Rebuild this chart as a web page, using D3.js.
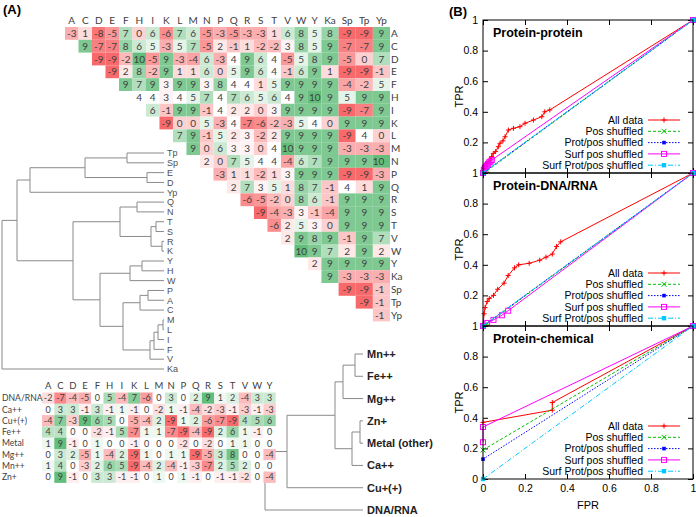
<!DOCTYPE html>
<html><head><meta charset="utf-8">
<script src="https://cdnjs.cloudflare.com/ajax/libs/d3/7.8.5/d3.min.js"></script>
<style>body{margin:0;background:#fff}svg{display:block}</style>
</head><body><svg id="c" width="696" height="517"></svg>
<script>
// ---------------- DATA ----------------
const aminoCols = ["A","C","D","E","F","H","I","K","L","M","N","P","Q","R","S","T","V","W","Y","Ka","Sp","Tp","Yp"];
// upper-triangle rows: row i lists values for columns i..end
const triValues = [
 [-3,1,-8,-5,7,0,6,-6,7,6,-5,-3,-5,-3,-3,1,6,8,5,8,-9,-9,9],
 [9,-7,-7,8,6,5,-3,5,7,-5,2,-1,1,-2,-2,3,8,5,9,-7,-7,9],
 [-9,-9,-2,10,-5,9,-3,-4,6,-3,4,9,6,4,-5,5,8,9,-5,0,7],
 [-9,2,8,-2,9,1,1,6,0,5,9,6,4,-1,6,9,1,-9,-9,-1],
 [9,7,9,3,9,9,3,8,4,4,1,5,9,9,9,9,-4,-2,5],
 [4,4,3,4,5,7,4,7,6,5,6,4,9,10,9,5,9,9],
 [6,-1,9,9,-1,4,2,2,0,3,9,9,9,9,-9,-7,9],
 [-9,0,0,5,-3,4,-7,-6,-2,-3,5,4,0,9,9,9],
 [7,9,-1,5,2,3,-2,2,9,9,9,9,-9,4,0],
 [9,0,6,3,3,0,4,10,9,9,9,-3,-3,-3],
 [2,0,7,5,4,4,-4,6,7,9,9,9,10],
 [-3,1,1,-2,1,3,9,9,9,-9,-9,-3],
 [2,7,3,5,1,8,7,-1,4,1,9],
 [-6,-5,-2,0,8,6,-1,9,9,9],
 [-9,-4,-3,3,-1,-4,9,9,9],
 [-6,2,5,3,0,9,9,9],
 [2,9,8,9,-1,9,7],
 [10,9,7,2,9,2],
 [2,9,9,9,9],
 [9,-3,-3,-3],
 [-9,-9,-1],
 [-9,-1],
 [-1]
];
const metalCols = ["A","C","D","E","F","H","I","K","L","M","N","P","Q","R","S","T","V","W","Y"];
const metalRows = ["DNA/RNA","Ca++","Cu+(+)","Fe++","Metal","Mg++","Mn++","Zn+"];
const metalValues = [
 [-2,-7,-4,-5,0,5,-4,7,-6,0,3,0,2,9,1,2,-4,3,3],
 [0,3,3,-1,3,-1,1,-1,0,-2,1,-1,-4,-2,-3,-1,-3,-1,-3],
 [-4,7,-3,9,6,5,0,-5,-4,2,-9,1,2,-6,-7,-9,4,5,6],
 [4,4,0,0,-2,-1,5,-7,1,1,-7,-9,-4,-9,2,6,1,-1,0],
 [1,9,-1,0,1,0,0,-1,0,0,0,-2,0,-2,0,1,1,0,0],
 [0,3,2,-5,1,-4,2,-9,1,0,1,1,-9,-5,3,8,0,0,-4],
 [1,4,0,-3,2,6,5,-9,-4,2,-4,-1,-3,-7,2,5,2,0,0],
 [0,9,-1,0,3,3,-1,-1,0,1,0,1,-1,0,-1,-1,-2,0,-4]
];
// dendrograms: [mergeHeight, child, child]; leaves are strings
const aminoTree = [162,
  [147,
    [134, [79, [37,"Tp","Sp"], [17,"E","D"]], "Yp"],
    [91,
      [44, [27,"Q","N"], [13, [8,"T","S"], [2,"R","K"]]],
      [64,
        [34, [22,"Y","H"], "W"],
        [41, [24, [16,"P","A"], "C"], [14, [10, [6, [1,"M","L"], "I"], "F"], "V"]]
      ]
    ]
  ],
  "Ka"];
const metalTree = [98,
  [76,
    [28, [20, [8,"Mn++","Fe++"], "Mg++"], [11, [3,"Zn+","Metal (other)"], "Ca++"]],
    "Cu+(+)"],
  "DNA/RNA"];
// ROC panels
const rocTitles = ["Protein-protein","Protein-DNA/RNA","Protein-chemical"];
const seriesNames = ["All data","Pos shuffled","Prot/pos shuffled","Surf pos shuffled","Surf Prot/pos shuffled"];
const axisTicks = [0,0.2,0.4,0.6,0.8,1];
const rocAllData = [
 [[0,0],[0.005,0.03],[0.01,0.045],[0.018,0.063],[0.025,0.075],[0.035,0.09],[0.041,0.107],[0.049,0.128],[0.06,0.14],[0.073,0.172],[0.081,0.194],[0.095,0.21],[0.105,0.237],[0.121,0.281],[0.145,0.292],[0.176,0.303],[0.2,0.325],[0.24,0.346],[0.28,0.368],[0.294,0.4],[0.318,0.412],[1,1]],
 [[0,0],[0.005,0.08],[0.01,0.12],[0.02,0.16],[0.03,0.18],[0.05,0.2],[0.07,0.24],[0.1,0.28],[0.12,0.33],[0.15,0.38],[0.17,0.4],[0.22,0.41],[0.27,0.43],[0.3,0.45],[0.33,0.47],[0.35,0.52],[0.37,0.55],[1,1]],
 [[0,0.37],[0.33,0.45],[0.33,0.5],[1,1]]
];
const rocPosShuffled = [
 [[0,0],[0.02,0.015],[1,1]],
 [[0,0],[0.02,0.015],[1,1]],
 [[0,0.19],[1,1]]
];
const rocProtPosShuffled = [
 [[0,0],[1,1]],
 [[0,0],[1,1]],
 [[0,0.13],[1,1]]
];
const rocSurfPosShuffled = [
 [[0,0],[0.004,0.02],[0.008,0.03],[0.012,0.04],[0.018,0.05],[0.024,0.06],[0.03,0.07],[0.036,0.075],[0.042,0.085],[1,1]],
 [[0,0],[0.02,0.02],[0.05,0.04],[0.09,0.07],[0.12,0.1],[1,1]],
 [[0,0.24],[0,0.34],[1,1]]
];
const rocSurfProtPosShuffled = [
 [[0,0],[1,1]],
 [[0,0],[1,1]],
 [[0,0],[1,1]]
];

// ---------------- DRAW ----------------
const svg = d3.select("#c");
const SANS = "'Liberation Sans', Arial, sans-serif";
const XL = "Lato, 'Open Sans', sans-serif";

svg.append("text").attr("x",3).attr("y",14).attr("font-family",SANS).attr("font-weight","bold")
  .attr("font-size",13).text("(A)");
svg.append("text").attr("x",449).attr("y",16).attr("font-family",SANS).attr("font-weight","bold")
  .attr("font-size",13).text("(B)");

// ---- triangular heatmap ----
const colUnits = aminoCols.map(c => c.length > 1 ? 1.27 : 1);
const colStart = [0]; colUnits.forEach((u,i)=>colStart.push(colStart[i]+u));
const xU = d3.scaleLinear().domain([0, colStart[colStart.length-1]]).range([65, 390]);
const rowY = d3.scaleBand().domain(aminoCols).range([27, 27 + 23*12.8]);
const triColor = d3.scaleLinear().domain([-9,4,10]).range(["#F8696B","#FFFFFF","#63BE7B"]);
const cells = [];
triValues.forEach((vals,i)=>vals.forEach((v,k)=>cells.push({r:aminoCols[i], ci:i+k, v})));
const gT = svg.append("g");
gT.selectAll("rect").data(cells).join("rect")
  .attr("x", d=>xU(colStart[d.ci])).attr("width", d=>xU(colStart[d.ci+1])-xU(colStart[d.ci]))
  .attr("y", d=>rowY(d.r)).attr("height", rowY.bandwidth())
  .attr("fill", d=>triColor(d.v));
gT.selectAll("text.v").data(cells).join("text").attr("class","v")
  .attr("x", d=>(xU(colStart[d.ci])+xU(colStart[d.ci+1]))/2 + (d.ci===aminoCols.length-1?3:0))
  .attr("y", d=>rowY(d.r)+rowY.bandwidth()/2).attr("dy","0.36em")
  .attr("text-anchor", d=>d.ci===aminoCols.length-1?"end":"middle")
  .attr("font-family",XL).attr("font-size",10).attr("fill","#404040").text(d=>d.v);
gT.selectAll("text.h").data(aminoCols).join("text").attr("class","h")
  .attr("x",(d,i)=>(xU(colStart[i])+xU(colStart[i+1]))/2).attr("y",20).attr("dy","0.36em")
  .attr("text-anchor","middle").attr("font-family",XL).attr("font-size",10).attr("fill","#404040").text(d=>d);
gT.selectAll("text.r").data(aminoCols).join("text").attr("class","r")
  .attr("x",xU.range()[1]+1).attr("y",d=>rowY(d)+rowY.bandwidth()/2).attr("dy","0.36em")
  .attr("font-family",XL).attr("font-size",10).attr("fill","#404040").text(d=>d);

// ---- dendrogram helper ----
function drawTree(tree, hx, y0, y1, labelOpts){
  const root = d3.hierarchy(tree, d => Array.isArray(d) ? d.slice(1) : null);
  const leaves = root.leaves().map(l=>l.data);
  const ly = d3.scalePoint().domain(leaves).range([y0,y1]);
  root.eachAfter(n=>{
    if(!n.children){ n.py = ly(n.data); n.px = hx(0); }
    else { n.py = (n.children[0].py + n.children[n.children.length-1].py)/2; n.px = hx(n.data[0]); }
  });
  const g = svg.append("g").attr("stroke","#8a8a8a").attr("stroke-width",1).attr("fill","none");
  root.each(n=>{
    if(!n.children) return;
    g.append("line").attr("x1",n.px).attr("x2",n.px).attr("y1",n.children[0].py).attr("y2",n.children[n.children.length-1].py);
    n.children.forEach(c=>g.append("line").attr("x1",n.px).attr("x2",c.px).attr("y1",c.py).attr("y2",c.py));
  });
  svg.append("g").selectAll("text").data(root.leaves()).join("text")
    .attr("x",d=>d.px+labelOpts.dx).attr("y",d=>d.py).attr("dy","0.36em")
    .attr("font-family",labelOpts.family).attr("font-size",labelOpts.size)
    .attr("font-weight",labelOpts.weight).attr("fill",labelOpts.fill).text(d=>d.data);
}
drawTree(aminoTree, d3.scaleLinear().domain([0,162]).range([164,2]), 153, 369,
  {dx:3, family:SANS, size:9, weight:"normal", fill:"#505050"});
drawTree(metalTree, d3.scaleLinear().domain([0,98]).range([363,265]), 354, 510,
  {dx:4, family:SANS, size:11, weight:"bold", fill:"#222"});

// ---- metal heatmap ----
const mx = d3.scaleBand().domain(metalCols).range([42, 42+19*12.3]);
const my = d3.scaleBand().domain(metalRows).range([392.5, 392.5+8*11.3]);
const metColor = d3.scaleLinear().domain([-9,0,9]).range(["#F8696B","#FFFFFF","#63BE7B"]);
const mcells = [];
metalValues.forEach((vals,i)=>vals.forEach((v,j)=>mcells.push({r:metalRows[i], c:metalCols[j], v})));
const gM = svg.append("g");
gM.selectAll("rect").data(mcells).join("rect")
  .attr("x",d=>mx(d.c)).attr("width",mx.bandwidth()).attr("y",d=>my(d.r)).attr("height",my.bandwidth())
  .attr("fill",d=>metColor(d.v));
gM.selectAll("text.v").data(mcells).join("text").attr("class","v")
  .attr("x",d=>mx(d.c)+mx.bandwidth()/2).attr("y",d=>my(d.r)+my.bandwidth()/2).attr("dy","0.36em")
  .attr("text-anchor","middle").attr("font-family",XL).attr("font-size",9).attr("fill","#404040").text(d=>d.v);
gM.selectAll("text.h").data(metalCols).join("text").attr("class","h")
  .attr("x",d=>mx(d)+mx.bandwidth()/2).attr("y",386).attr("dy","0.36em").attr("text-anchor","middle")
  .attr("font-family",XL).attr("font-size",9.5).attr("fill","#404040").text(d=>d);
gM.selectAll("text.r").data(metalRows).join("text").attr("class","r")
  .attr("x",2).attr("y",d=>my(d)+my.bandwidth()/2).attr("dy","0.36em")
  .attr("font-family",XL).attr("font-size",8.6).attr("fill","#404040").text(d=>d);

// ---- ROC panels ----
const seriesData = [rocAllData, rocPosShuffled, rocProtPosShuffled, rocSurfPosShuffled, rocSurfProtPosShuffled];
const seriesColor = ["#ff0000","#00c000","#0000ff","#ff00ff","#00c8ff"];
const seriesDash = [null,"3,2","1.5,1.5",null,"5,2,1,2"];
const seriesMark = ["plus","cross","star","osq","fsq"];
const px = d3.scaleLinear().domain([0,1]).range([483,693]);
const pTop = 20, pH = 153;
function marker(g, type, x, y, col){
  const s = 2.5;
  if(type==="plus"){ g.append("path").attr("d",`M${x-s},${y}H${x+s}M${x},${y-s}V${y+s}`).attr("stroke",col).attr("fill","none"); }
  else if(type==="cross"){ g.append("path").attr("d",`M${x-s},${y-s}L${x+s},${y+s}M${x-s},${y+s}L${x+s},${y-s}`).attr("stroke",col).attr("fill","none"); }
  else if(type==="star"){ g.append("rect").attr("x",x-1.8).attr("y",y-1.8).attr("width",3.6).attr("height",3.6).attr("fill",col); }
  else if(type==="osq"){ g.append("rect").attr("x",x-2.5).attr("y",y-2.5).attr("width",5).attr("height",5).attr("fill","none").attr("stroke",col); }
  else { g.append("rect").attr("x",x-2.2).attr("y",y-2.2).attr("width",4.4).attr("height",4.4).attr("fill",col); }
}
rocTitles.forEach((title,p)=>{
  const top = pTop + p*pH, bot = top + pH;
  const py = d3.scaleLinear().domain([0,1]).range([bot, top]);
  const g = svg.append("g");
  const styleAxis = a => { a.select(".domain").remove(); a.selectAll("text").attr("font-family",SANS).attr("font-size",10.5).attr("fill","#000"); a.selectAll("line").attr("stroke","#000"); };
  const leftVals = p===2 ? axisTicks : axisTicks.slice(1);
  g.append("g").attr("transform",`translate(${px(0)},0)`)
    .call(d3.axisLeft(py).tickValues(leftVals).tickSizeInner(-5).tickSizeOuter(0).tickPadding(5).tickFormat(d3.format("~g"))).call(styleAxis);
  g.append("g").attr("transform",`translate(${px(1)},0)`)
    .call(d3.axisRight(py).tickValues(axisTicks).tickSizeInner(-5).tickSizeOuter(0).tickFormat("")).call(styleAxis);
  g.append("g").attr("transform",`translate(0,${top})`)
    .call(d3.axisTop(px).tickValues(axisTicks).tickSizeInner(-5).tickSizeOuter(0).tickFormat("")).call(styleAxis);
  g.append("g").attr("transform",`translate(0,${bot})`)
    .call(d3.axisBottom(px).tickValues(axisTicks).tickSizeInner(-5).tickSizeOuter(0).tickPadding(6)
      .tickFormat(p===2 ? d3.format("~g") : "")).call(styleAxis);
  g.append("text").attr("transform",`translate(463,${(top+bot)/2}) rotate(-90)`).attr("text-anchor","middle")
    .attr("font-family",SANS).attr("font-size",11).text("TPR");
  const clipId = "clip"+p;
  svg.append("clipPath").attr("id",clipId).append("rect").attr("x",px(0)-3).attr("y",top-3).attr("width",px(1)-px(0)+6).attr("height",pH+6);
  const gl = g.append("g").attr("clip-path",`url(#${clipId})`);
  const line = d3.line().x(d=>px(d[0])).y(d=>py(d[1]));
  seriesData.forEach((sd,k)=>{
    gl.append("path").attr("d",line(sd[p])).attr("fill","none").attr("stroke",seriesColor[k])
      .attr("stroke-width",1).attr("stroke-dasharray",seriesDash[k]);
    sd[p].forEach(pt=>marker(gl, seriesMark[k], px(pt[0]), py(pt[1]), seriesColor[k]));
  });
  g.append("rect").attr("x",px(0)).attr("y",top).attr("width",px(1)-px(0)).attr("height",pH)
    .attr("fill","none").attr("stroke","#000").attr("stroke-width",1);
  g.append("text").attr("x",493).attr("y",top+17).attr("font-family",SANS).attr("font-weight","bold")
    .attr("font-size",12.5).text(title);
  seriesNames.forEach((nm,k)=>{
    const yy = top + 100 + k*11.3;
    g.append("text").attr("x",643).attr("y",yy).attr("dy","0.36em").attr("text-anchor","end")
      .attr("font-family",SANS).attr("font-size",10.5).text(nm);
    g.append("line").attr("x1",648).attr("x2",680).attr("y1",yy).attr("y2",yy).attr("stroke",seriesColor[k])
      .attr("stroke-dasharray",seriesDash[k]);
    marker(g, seriesMark[k], 664, yy, seriesColor[k]);
  });
});
svg.append("text").attr("x",px(0.5)).attr("y",509).attr("text-anchor","middle").attr("font-family",SANS)
  .attr("font-size",11).text("FPR");
</script></body></html>
